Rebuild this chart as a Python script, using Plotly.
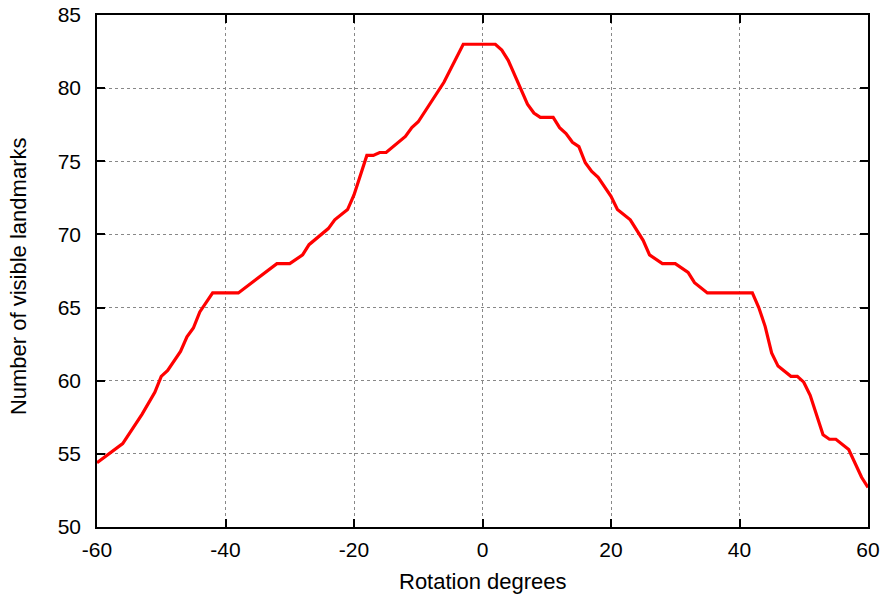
import plotly.graph_objects as go

rotation_deg = [-60, -56, -53, -52, -51, -50, -49, -47, -46, -45, -44, -42, -38, -32, -30,
                -28, -27, -24, -23, -21, -20, -18, -17, -16, -15, -12, -11, -10, -6, -3,
                2, 3, 4, 7, 8, 9, 11, 12, 13, 14, 15, 16, 17, 18, 20, 21, 23, 25, 26, 28,
                30, 32, 33, 35, 42, 43, 44, 45, 46, 48, 49, 50, 51, 53, 54, 55, 57, 59, 60]
landmarks = [54.4, 55.7, 57.7, 58.5, 59.2, 60.3, 60.7, 62.0, 63.0, 63.6, 64.7, 66.0, 66.0, 68.0, 68.0,
             68.6, 69.3, 70.4, 71.0, 71.7, 72.7, 75.4, 75.4, 75.6, 75.6, 76.7, 77.3, 77.7, 80.4, 83.0,
             83.0, 82.6, 81.9, 78.9, 78.3, 78.0, 78.0, 77.3, 76.9, 76.3, 76.0, 74.9, 74.3, 73.9, 72.6, 71.7, 71.0, 69.6, 68.6, 68.0,
             68.0, 67.4, 66.7, 66.0, 66.0, 65.0, 63.7, 61.9, 61.0, 60.3, 60.3, 59.9, 59.0, 56.3, 56.0, 56.0, 55.3, 53.4, 52.7]

x_ticks = [-60, -40, -20, 0, 20, 40, 60]
y_ticks = [50, 55, 60, 65, 70, 75, 80, 85]
x_title = "Rotation degrees"
y_title = "Number of visible landmarks"

fig = go.Figure()
fig.add_trace(go.Scatter(x=rotation_deg, y=landmarks, mode="lines",
                         line=dict(color="#ff0000", width=3.2), showlegend=False))

font = dict(family="Liberation Sans, Arial, sans-serif", size=21, color="black")
title_font = dict(family="Liberation Sans, Arial, sans-serif", size=22, color="black")
axis_common = dict(
    showline=True, linecolor="black", linewidth=1.5, mirror="ticks",
    ticks="inside", ticklen=8, tickwidth=1.5, tickcolor="black",
    showgrid=True, gridcolor="#888888", gridwidth=1, griddash="dot",
    zeroline=False, tickfont=font, automargin=False,
)
fig.update_layout(
    width=885, height=601,
    margin=dict(l=97, r=17, t=15, b=74),
    paper_bgcolor="white", plot_bgcolor="white",
    font=font,
    xaxis=dict(range=[-60, 60], tickvals=x_ticks, ticktext=[str(v) for v in x_ticks],
               ticklabelstandoff=3, **axis_common),
    yaxis=dict(range=[50, 85], tickvals=y_ticks, ticktext=[str(v) for v in y_ticks],
               ticklabelstandoff=10, **axis_common),
    annotations=[
        dict(text=x_title, xref="paper", yref="paper", x=0.5, y=-0.1074,
             xanchor="center", yanchor="middle", showarrow=False, font=title_font),
        dict(text=y_title, xref="paper", yref="paper", x=-0.1025, y=0.49,
             xanchor="center", yanchor="middle", showarrow=False, textangle=-90,
             font=title_font),
    ],
)
fig.write_html("out.html")
